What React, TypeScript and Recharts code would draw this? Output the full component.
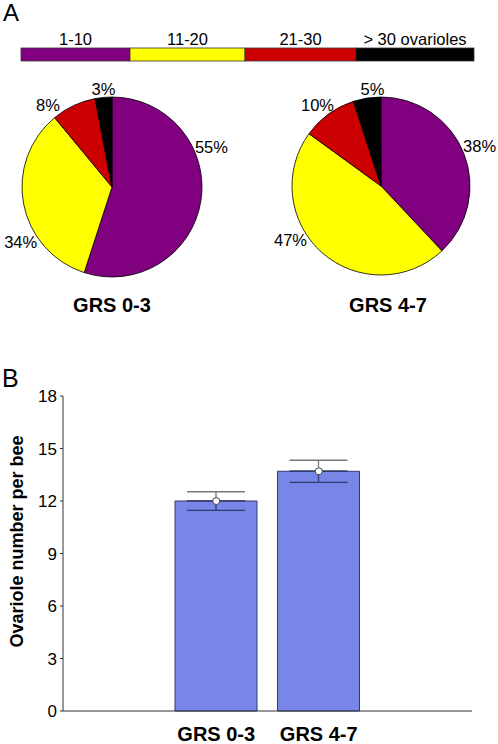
import React from 'react';
import {
    PieChart,
    Pie,
    Cell,
    ComposedChart,
    Bar,
    Line,
    ErrorBar,
    XAxis,
    YAxis,
} from 'recharts';

// ovariole-count bins (panel A)
const BINS = ['1-10', '11-20', '21-30', '> 30 ovarioles'];
const BIN_COLORS = ['#800080', '#ffff00', '#cc0000', '#000000'];
const GRS03_PCT = [55, 34, 8, 3];
const GRS47_PCT = [38, 47, 10, 5];

// panel B
const GROUPS = ['GRS 0-3', 'GRS 4-7'];
const MEAN_OVARIOLES = [12.0, 13.7];
const SEM = [0.53, 0.63];
const Y_TICKS = [0, 3, 6, 9, 12, 15, 18];

// label directions, degrees clockwise from 12 o'clock, one per bin
const LABEL_ANGLES = [68, 239, 322, 355];
const LEGEND_WIDTHS = [109, 115, 111, 118];

const FONT = 'Arial, "Liberation Sans", sans-serif';

const pieData = (pct: number[]) =>
    BINS.map((bin, i) => ({ bin, value: pct[i] }));

const barData = GROUPS.map((group, i) => ({
    group,
    mean: MEAN_OVARIOLES[i],
    errUp: [0, SEM[i]],
    errDown: [SEM[i], 0],
}));

const renderPctLabel = (props: any) => {
    const { cx, cy, outerRadius, index, value } = props;
    const a = (LABEL_ANGLES[index] * Math.PI) / 180;
    const dist = outerRadius + 8 + 10 * Math.abs(Math.sin(a));
    return (
        <text
            x={cx + dist * Math.sin(a)}
            y={cy - dist * Math.cos(a)}
            textAnchor="middle"
            dominantBaseline="central"
            fontSize={16.5}
            fontFamily={FONT}
            fill="#000"
        >
            {value}%
        </text>
    );
};

const Legend = () => {
    let x = 21;
    return (
        <g>
            {BINS.map((bin, i) => {
                const x0 = x;
                x += LEGEND_WIDTHS[i];
                return (
                    <g key={bin}>
                        <rect
                            x={x0}
                            y={48}
                            width={LEGEND_WIDTHS[i]}
                            height={13}
                            fill={BIN_COLORS[i]}
                            stroke="#333"
                            strokeWidth={0.8}
                        />
                        <text
                            x={x0 + LEGEND_WIDTHS[i] / 2}
                            y={45}
                            textAnchor="middle"
                            fontSize={16.5}
                            fontFamily={FONT}
                        >
                            {bin}
                        </text>
                    </g>
                );
            })}
        </g>
    );
};

const YLabel = (props: any) => {
    const { viewBox } = props;
    const cy = viewBox.y + viewBox.height / 2 - 12;
    return (
        <text
            x={17}
            y={cy}
            transform={`rotate(-90, 17, ${cy})`}
            textAnchor="middle"
            dominantBaseline="central"
            fontSize={18}
            fontWeight={700}
            fontFamily={FONT}
            fill="#000"
        >
            Ovariole number per bee
        </text>
    );
};

export default function App() {
    return (
        <div
            style={{
                position: 'absolute',
                left: 0,
                top: 0,
                width: 498,
                height: 744,
                background: '#fff',
                fontFamily: FONT,
            }}
        >
            <div style={{ position: 'absolute', left: 0, top: 0 }}>
                <PieChart
                    width={498}
                    height={320}
                    margin={{ top: 0, right: 0, bottom: 0, left: 0 }}
                >
                    <Pie
                        data={pieData(GRS03_PCT)}
                        dataKey="value"
                        nameKey="bin"
                        cx={112}
                        cy={187}
                        outerRadius={90}
                        startAngle={90}
                        endAngle={-270}
                        stroke="#000"
                        strokeWidth={0.8}
                        label={renderPctLabel}
                        labelLine={false}
                        isAnimationActive={false}
                    >
                        {BINS.map((bin, i) => (
                            <Cell key={bin} fill={BIN_COLORS[i]} />
                        ))}
                    </Pie>
                    <Pie
                        data={pieData(GRS47_PCT)}
                        dataKey="value"
                        nameKey="bin"
                        cx={381}
                        cy={186}
                        outerRadius={89}
                        startAngle={90}
                        endAngle={-270}
                        stroke="#000"
                        strokeWidth={0.8}
                        label={renderPctLabel}
                        labelLine={false}
                        isAnimationActive={false}
                    >
                        {BINS.map((bin, i) => (
                            <Cell key={bin} fill={BIN_COLORS[i]} />
                        ))}
                    </Pie>
                </PieChart>
            </div>
            <div style={{ position: 'absolute', left: 0, top: 0 }}>
                <ComposedChart
                    width={498}
                    height={744}
                    data={barData}
                    margin={{ top: 396, right: 26, left: 0, bottom: 0 }}
                >
                    <XAxis
                        dataKey="group"
                        height={33}
                        padding={{ left: 102, right: 102 }}
                        tickLine={false}
                        tickSize={0}
                        tickMargin={16}
                        axisLine={{ stroke: '#333' }}
                        tick={{ fontSize: 20, fontWeight: 700, fill: '#000', fontFamily: FONT }}
                    />
                    <XAxis
                        xAxisId="top"
                        orientation="top"
                        dataKey="group"
                        height={0}
                        tick={false}
                        tickLine={false}
                        axisLine={{ stroke: '#333' }}
                    />
                    <YAxis
                        width={63}
                        domain={[0, 18]}
                        ticks={Y_TICKS}
                        tickSize={3}
                        tickMargin={3}
                        interval={0}
                        axisLine={{ stroke: '#333' }}
                        tickLine={{ stroke: '#333' }}
                        tick={{ fontSize: 17, fill: '#000', fontFamily: FONT }}
                        label={<YLabel />}
                    />
                    <YAxis
                        yAxisId="right"
                        orientation="right"
                        width={0}
                        domain={[0, 18]}
                        tick={false}
                        tickLine={false}
                        axisLine={{ stroke: '#333' }}
                    />
                    <Bar
                        dataKey="mean"
                        barSize={82}
                        fill="#7886e8"
                        stroke="#2f3a6e"
                        strokeWidth={1}
                        isAnimationActive={false}
                    >
                        <ErrorBar dataKey="errUp" width={29} stroke="#777" strokeWidth={1.3} />
                        <ErrorBar dataKey="errDown" width={29} stroke="#2f3a6e" strokeWidth={1.3} />
                    </Bar>
                    <Line
                        dataKey="mean"
                        stroke="none"
                        dot={{ r: 3.5, fill: '#fff', stroke: '#444', strokeWidth: 1 }}
                        activeDot={false}
                        isAnimationActive={false}
                    />
                </ComposedChart>
            </div>
            <svg
                width={498}
                height={744}
                style={{ position: 'absolute', left: 0, top: 0, pointerEvents: 'none' }}
                fontFamily={FONT}
            >
                <text x={3} y={21} fontSize={24}>A</text>
                <text x={2} y={387} fontSize={25}>B</text>
                <Legend />
                <text x={112} y={312} textAnchor="middle" fontSize={20} fontWeight={700}>
                    {GROUPS[0]}
                </text>
                <text x={388} y={312} textAnchor="middle" fontSize={20} fontWeight={700}>
                    {GROUPS[1]}
                </text>
            </svg>
        </div>
    );
}
